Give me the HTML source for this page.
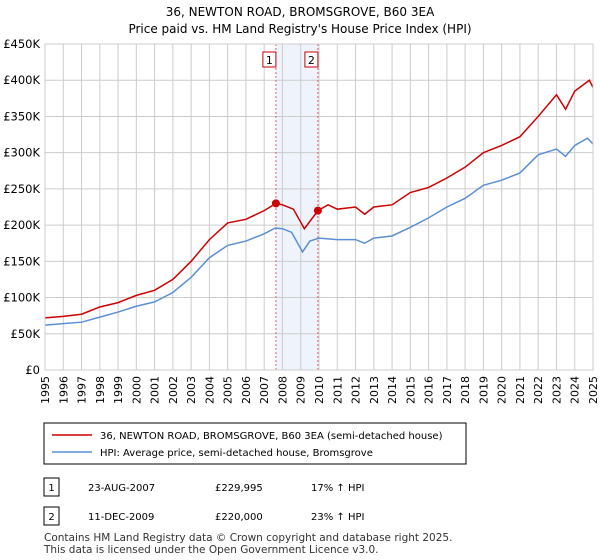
<!DOCTYPE html>
<html><head><meta charset="utf-8"><style>
body{margin:0;background:#fff;font-family:"DejaVu Sans","Liberation Sans",sans-serif;}
svg{display:block}
</style></head><body>
<svg width="600" height="560" xmlns="http://www.w3.org/2000/svg" id="chart" font-family="DejaVu Sans, Liberation Sans, sans-serif">
<text x="300" y="16" text-anchor="middle" font-size="12">36, NEWTON ROAD, BROMSGROVE, B60 3EA</text>
<text x="300" y="33" text-anchor="middle" font-size="12">Price paid vs. HM Land Registry's House Price Index (HPI)</text>
<g id="grid"></g>
<g id="marks"></g>
<g id="axes"></g>
<rect x="44" y="423" width="422" height="41" fill="#fff" stroke="#000"/>
<line x1="52" y1="435" x2="92" y2="435" stroke="#cc0000" stroke-width="1.5"/>
<text x="100" y="439" font-size="10">36, NEWTON ROAD, BROMSGROVE, B60 3EA (semi-detached house)</text>
<line x1="52" y1="452" x2="92" y2="452" stroke="#5b8fd4" stroke-width="1.5"/>
<text x="100" y="456" font-size="10">HPI: Average price, semi-detached house, Bromsgrove</text>
<g font-size="10">
<rect x="44" y="478" width="15" height="18" fill="#fff" stroke="#000"/>
<text x="51.5" y="491" text-anchor="middle">1</text>
<text x="88" y="491">23-AUG-2007</text><text x="215" y="491">£229,995</text><text x="311" y="491">17% ↑ HPI</text>
<rect x="44" y="507" width="15" height="18" fill="#fff" stroke="#000"/>
<text x="51.5" y="520" text-anchor="middle">2</text>
<text x="88" y="520">11-DEC-2009</text><text x="215" y="520">£220,000</text><text x="311" y="520">23% ↑ HPI</text>
</g>
<text x="44" y="541" font-size="10.5" fill="#333">Contains HM Land Registry data © Crown copyright and database right 2025.</text>
<text x="44" y="553" font-size="10.5" fill="#333">This data is licensed under the Open Government Licence v3.0.</text>
</svg>
<script>
const years=[1995,1996,1997,1998,1999,2000,2001,2002,2003,2004,2005,2006,2007,2008,2009,2010,2011,2012,2013,2014,2015,2016,2017,2018,2019,2020,2021,2022,2023,2024,2025];
const yTicks=[0,50000,100000,150000,200000,250000,300000,350000,400000,450000];
const yTickLabels=["£0","£50K","£100K","£150K","£200K","£250K","£300K","£350K","£400K","£450K"];
const hpiDates=[1995,1996,1997,1998,1999,2000,2001,2002,2003,2004,2005,2006,2007,2007.6,2008,2008.5,2009.1,2009.5,2010,2011,2012,2012.5,2013,2014,2015,2016,2017,2018,2019,2020,2021,2022,2023,2023.5,2024,2024.7,2025];
const hpiValues=[62000,64000,66000,73000,80000,88000,94000,107000,128000,155000,172000,178000,188000,196000,195000,190000,163000,178000,182000,180000,180000,175000,182000,185000,197000,210000,225000,237000,255000,262000,272000,297000,305000,295000,310000,320000,312000];
const priceDates=[1995,1996,1997,1998,1999,2000,2001,2002,2003,2004,2005,2006,2007,2007.64,2008,2008.6,2009.2,2009.94,2010.5,2011,2012,2012.5,2013,2014,2015,2016,2017,2018,2019,2020,2021,2022,2023,2023.5,2024,2024.8,2025];
const priceValues=[72000,74000,77000,87000,93000,103000,110000,125000,150000,180000,203000,208000,220000,229995,228000,222000,195000,220000,228000,222000,225000,215000,225000,228000,245000,252000,265000,280000,300000,310000,322000,350000,380000,360000,385000,400000,390000];
const saleDates=[2007.64,2009.94];
const saleValues=[229995,220000];
const saleLabels=["1","2"];
const X0=45,X1=593,Y0=370,Y1=44;
const xs=d=>X0+(d-1995)*(X1-X0)/30;
const ys=v=>Y0-v*(Y0-Y1)/450000;
const NS="http://www.w3.org/2000/svg";
function mk(parent,tag,attrs){const e=document.createElementNS(NS,tag);for(const k in attrs)e.setAttribute(k,attrs[k]);document.getElementById(parent).appendChild(e);return e;}
let r=mk('grid','rect',{x:xs(saleDates[0]),y:Y1,width:xs(saleDates[1])-xs(saleDates[0]),height:Y0-Y1,fill:'#eef3fc'});


years.forEach(y=>{let l=mk('grid','line',{x1:xs(y),x2:xs(y),y1:Y1,y2:Y0,stroke:'#cccccc'});


let t=mk('axes','text',{transform:`translate(${xs(y)+4},${Y0+6}) rotate(-90)`,'text-anchor':'end','font-size':'11'});t.textContent=y;

});
yTicks.forEach((v,i)=>{let l=mk('grid','line',{x1:X0,x2:X1,y1:ys(v),y2:ys(v),stroke:'#cccccc'});


let t=mk('axes','text',{x:X0-5,y:ys(v)+4,'text-anchor':'end','font-size':'11.5'});t.textContent=yTickLabels[i];

});
saleDates.forEach((d,i)=>{let l=mk('marks','line',{x1:xs(d),x2:xs(d),y1:Y1,y2:Y0,stroke:'#e06060','stroke-dasharray':'2,2'});


let b=mk('marks','rect',{x:xs(d)-13,y:52,width:13,height:15,fill:'#fff',stroke:'#cc0000'});


let t=mk('marks','text',{x:xs(d)-6.5,y:64,'text-anchor':'middle','font-size':'11'});t.textContent=saleLabels[i];

});
let hp=mk('marks','polyline',{points:hpiDates.map((d,i)=>xs(d)+','+ys(hpiValues[i])).join(' '),fill:'none',stroke:'#5b8fd4','stroke-width':'1.5'});


let pp=mk('marks','polyline',{points:priceDates.map((d,i)=>xs(d)+','+ys(priceValues[i])).join(' '),fill:'none',stroke:'#cc0000','stroke-width':'1.5'});


saleDates.forEach((d,i)=>{let c=mk('marks','circle',{cx:xs(d),cy:ys(saleValues[i]),r:4,fill:'#cc0000'});

});
let ax=mk('axes','rect',{x:X0,y:Y1,width:X1-X0,height:Y0-Y1,fill:'none',stroke:'#cccccc'});


</script>
</body></html>
